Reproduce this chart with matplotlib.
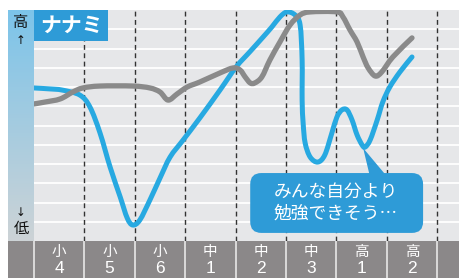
import numpy as np
import matplotlib
matplotlib.use("Agg")
import matplotlib.pyplot as plt
from matplotlib.patches import Rectangle, FancyBboxPatch, Polygon, PathPatch
from matplotlib.path import Path

plt.rcParams['font.family'] = ['Noto Sans CJK JP', 'DejaVu Sans']

# grades along the bottom
school = ["小", "小", "小", "中", "中", "中", "高", "高"]
year = ["4", "5", "6", "1", "2", "3", "1", "2"]

# blue line (ナナミ), x in grade units, y in level units (0-12)
blue_x = [0.00, 0.32, 0.56, 0.91, 1.11, 1.31, 1.51, 1.71, 1.85, 1.96, 2.10, 2.30,
          2.50, 2.70, 2.96, 3.29, 3.69, 4.01, 4.29, 4.54, 4.72, 4.88, 5.02, 5.18,
          5.28, 5.32, 5.32, 5.34, 5.38, 5.48, 5.63, 5.77, 5.91, 6.01, 6.11, 6.21,
          6.31, 6.41, 6.51, 6.57, 6.67, 6.81, 6.92, 7.06, 7.26, 7.50]
blue_y = [7.95, 7.90, 7.84, 7.58, 6.96, 5.61, 3.84, 2.29, 1.19, 0.83, 1.09, 2.13,
          3.27, 4.36, 5.25, 6.39, 7.84, 9.04, 9.85, 10.58, 11.12, 11.64, 11.90, 11.74,
          11.22, 9.40, 7.32, 6.13, 5.09, 4.36, 4.10, 4.47, 5.61, 6.44, 6.81, 6.81,
          6.29, 5.51, 4.99, 4.88, 5.25, 6.29, 7.22, 8.00, 8.78, 9.56]

# gray line
gray_x = [0.00, 0.22, 0.52, 0.77, 0.97, 1.31, 1.96, 2.30, 2.50, 2.66, 2.84, 3.04,
          3.29, 3.69, 3.95, 4.09, 4.19, 4.29, 4.38, 4.52, 4.68, 4.88, 5.08, 5.28,
          5.48, 6.01, 6.13, 6.27, 6.41, 6.53, 6.63, 6.77, 6.90, 7.12, 7.50]
gray_y = [7.12, 7.22, 7.38, 7.74, 7.95, 8.05, 8.05, 7.95, 7.74, 7.32, 7.64, 8.00,
          8.26, 8.73, 8.99, 8.88, 8.52, 8.21, 8.21, 8.52, 9.40, 10.34, 11.22, 11.74,
          11.90, 11.90, 11.64, 10.96, 10.34, 9.56, 8.99, 8.57, 8.78, 9.56, 10.55]


def smooth_path(xs, ys):
    # cubic bezier through every point (catmull-rom style handles)
    p = np.column_stack([xs, ys])
    n = len(p)
    verts = [p[0]]
    codes = [Path.MOVETO]
    for i in range(n - 1):
        a = p[i - 1] if i > 0 else p[i]
        b, c = p[i], p[i + 1]
        d = p[i + 2] if i + 2 < n else p[i + 1]
        verts += [b + (c - a) / 6, c - (d - b) / 6, c]
        codes += [Path.CURVE4] * 3
    return Path(verts, codes)


W, H = 459, 278
fig = plt.figure(figsize=(W / 100, H / 100), dpi=100)

BLUE = "#27a9e1"
BOX = "#2e9bd7"
GRAY = "#8a8a8a"
BAND = "#8b8889"

x_max = 8 + (W - 34 - 8 * 50.4) / 50.4

# main plot
ax = fig.add_axes([34 / W, 37 / H, (W - 34) / W, 231 / H])
ax.set_facecolor("#e6e7e9")
ax.set_xlim(0, x_max)
ax.set_ylim(0, 12)
for s in ax.spines.values():
    s.set_visible(False)
ax.set_xticks([])
ax.set_yticks([])
for yv in range(1, 12):
    ax.axhline(yv, color="white", lw=1.3, zorder=1)
for xv in range(1, 9):
    ax.axvline(xv, color="#333333", lw=1.0, ls=(0, (3.5, 2.5)), zorder=2)

ax.add_patch(PathPatch(smooth_path(blue_x, blue_y), facecolor="none", edgecolor=BLUE,
                       lw=3.6, joinstyle="round", capstyle="round", zorder=4))
ax.add_patch(PathPatch(smooth_path(gray_x, gray_y), facecolor="none", edgecolor=GRAY,
                       lw=3.8, joinstyle="round", capstyle="round", zorder=5))

# title box
ax.add_patch(Rectangle((0, 1 - 31 / 231), 74 / 425, 31 / 231, transform=ax.transAxes,
                       facecolor=BOX, edgecolor="none", zorder=6))
ax.text(37 / 425, 1 - 15.5 / 231, "ナナミ", transform=ax.transAxes, color="white",
        fontsize=15, fontweight="bold", ha="center", va="center", zorder=7)

# speech bubble
bub = FancyBboxPatch((4.29, 0.42), 3.43, 3.11,
                     boxstyle="round,pad=0,rounding_size=0.22",
                     mutation_aspect=50.4 / 19.25,
                     facecolor=BOX, edgecolor="none", zorder=6)
ax.add_patch(bub)
ax.add_patch(Polygon([(6.53, 4.83), (6.67, 3.3), (7.02, 3.3)], closed=True,
                     facecolor=BOX, edgecolor="none", zorder=6))
ax.text(5.99, 2.0, "みんな自分より\n勉強できそう…", color="white", fontsize=12.8,
        ha="center", va="center", linespacing=1.3, zorder=7)

# left strip with gradient
axl = fig.add_axes([8 / W, 37 / H, 26 / W, 231 / H])
top = np.array([0x7c, 0xc4, 0xea]) / 255
bot = np.array([0xcd, 0xd3, 0xd6]) / 255
t = np.linspace(0, 1, 200)[:, None]
grad = (top * (1 - t) + bot * t)[:, None, :]
axl.imshow(grad, aspect="auto", extent=[0, 1, 0, 1])
axl.set_xlim(0, 1)
axl.set_ylim(0, 1)
axl.axis("off")
axl.text(0.5, 1 - 13 / 231, "高", ha="center", va="center", fontsize=11, color="#111111")
axl.text(0.5, 1 - 30 / 231, "↑", ha="center", va="center", fontsize=8.5, color="#111111",
         family=["DejaVu Sans"])
axl.text(0.5, 1 - 202 / 231, "↓", ha="center", va="center", fontsize=8.5, color="#111111",
         family=["DejaVu Sans"])
axl.text(0.5, 1 - 219 / 231, "低", ha="center", va="center", fontsize=11, color="#111111")

# bottom band
axb = fig.add_axes([8 / W, 0, (W - 8) / W, 37 / H])
axb.set_facecolor(BAND)
axb.set_xlim(-26 / 50.4, x_max)
axb.set_ylim(0, 1)
for s in axb.spines.values():
    s.set_visible(False)
axb.set_xticks([])
axb.set_yticks([])
for xv in range(0, 9):
    axb.axvline(xv, color="white", lw=1.2, alpha=0.8)
for i in range(len(school)):
    axb.text(i + 0.5, 0.70, school[i], ha="center", va="center", color="white",
             fontsize=10.5)
    axb.text(i + 0.5, 0.26, year[i], ha="center", va="center", color="white",
             fontsize=12.5, family=["Liberation Sans", "DejaVu Sans"])

fig.savefig("out.png", dpi=100)
